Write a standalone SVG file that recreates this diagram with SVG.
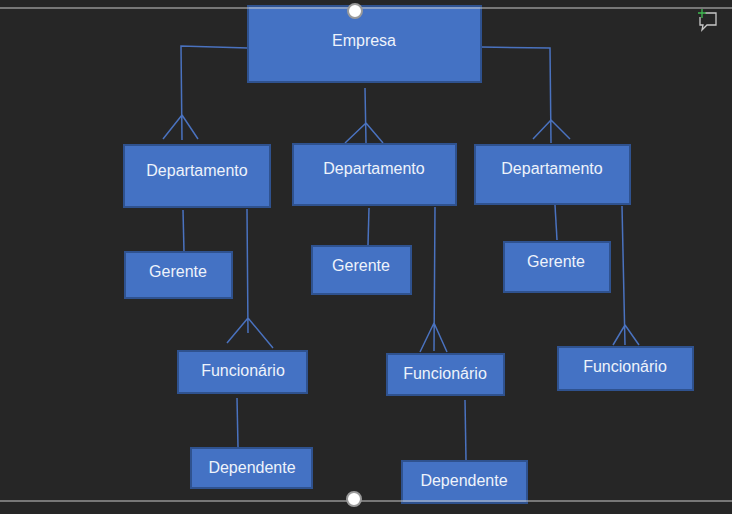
<svg xmlns="http://www.w3.org/2000/svg" width="732" height="514" viewBox="0 0 732 514">
<style>
.box{fill:#4472C4;stroke:#2F528F;stroke-width:2}
.lbl{font-family:"Liberation Sans","Open Sans",Arial,sans-serif;font-size:16px;fill:#eef3fb;text-anchor:middle;dominant-baseline:central}
.con{stroke:#4a72bf;stroke-width:1.5;fill:none}
.sel{stroke:#c9c9c9;stroke-width:1.2}
.hdl{fill:#ffffff;stroke:#9a9a9a;stroke-width:2}
</style>
<rect x="0" y="0" width="732" height="514" fill="#262626"/>
<g id="connectors">
<path class="con" d="M248,48 L181,46 L182,140 M182,115 L163,139 M182,115 L198,139"/>
<path class="con" d="M365,88 L366,143 M366,123 L345,143 M366,123 L383,143"/>
<path class="con" d="M481,47 L550,48 L551,143 M551,120 L533,139 M551,120 L570,139"/>
<path class="con" d="M183,210 L184,252"/>
<path class="con" d="M247,209 L248,333 M248,318 L227,343 M248,318 L273,348"/>
<path class="con" d="M369,208 L368,245"/>
<path class="con" d="M435,207 L434,351 M434,323 L420,352 M434,323 L447,352"/>
<path class="con" d="M555,205 L557,240"/>
<path class="con" d="M622,206 L625,345 M625,325 L613,345 M625,325 L639,345"/>
<path class="con" d="M237,398 L238,447"/>
<path class="con" d="M465,400 L466,460"/>
</g>
<g id="empresa"><rect class="box" x="248" y="6" width="233" height="76"/><text class="lbl" x="364" y="40">Empresa</text></g>
<g id="dept1"><rect class="box" x="124" y="145" width="146" height="62"/><text class="lbl" x="197" y="170">Departamento</text></g>
<g id="dept2"><rect class="box" x="293" y="144" width="163" height="61"/><text class="lbl" x="374" y="168">Departamento</text></g>
<g id="dept3"><rect class="box" x="475" y="145" width="155" height="59"/><text class="lbl" x="552" y="168">Departamento</text></g>
<g id="gerente1"><rect class="box" x="125" y="252" width="107" height="46"/><text class="lbl" x="178" y="271">Gerente</text></g>
<g id="gerente2"><rect class="box" x="312" y="246" width="99" height="48"/><text class="lbl" x="361" y="265">Gerente</text></g>
<g id="gerente3"><rect class="box" x="504" y="242" width="106" height="50"/><text class="lbl" x="556" y="261">Gerente</text></g>
<g id="func1"><rect class="box" x="178" y="351" width="129" height="42"/><text class="lbl" x="243" y="370">Funcionário</text></g>
<g id="func2"><rect class="box" x="387" y="354" width="117" height="41"/><text class="lbl" x="445" y="373">Funcionário</text></g>
<g id="func3"><rect class="box" x="558" y="347" width="135" height="43"/><text class="lbl" x="625" y="366">Funcionário</text></g>
<g id="dep1"><rect class="box" x="191" y="448" width="121" height="40"/><text class="lbl" x="252" y="467">Dependente</text></g>
<g id="dep2"><rect class="box" x="402" y="461" width="125" height="42"/><text class="lbl" x="464" y="480">Dependente</text></g>
<g id="selection">
<line class="sel" x1="0" y1="8" x2="732" y2="8"/>
<line class="sel" x1="0" y1="501" x2="732" y2="501"/>
<circle class="hdl" cx="355" cy="11" r="7"/>
<circle class="hdl" cx="354" cy="499" r="7"/>
</g>
<g id="comment-icon" fill="none" stroke-width="1.3">
<path d="M705,13 L716,13 L716,25 L707,25 L702,30 L703,25 L700,25 L700,17" stroke="#c8c8c8"/>
<path d="M702,9 L702,18 M698,13 L706,13" stroke="#3fb950"/>
</g>
</svg>
